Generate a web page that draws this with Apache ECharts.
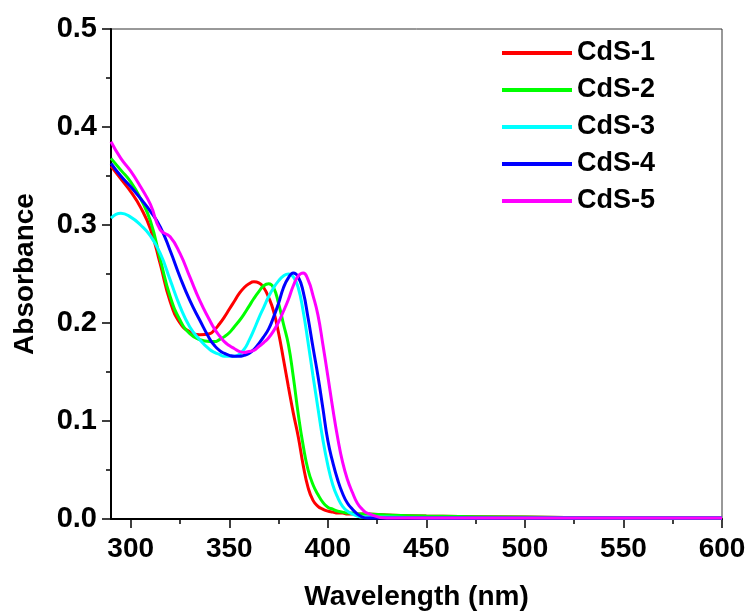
<!DOCTYPE html>
<html>
<head>
<meta charset="utf-8">
<script src="https://cdn.jsdelivr.net/npm/echarts@6/dist/echarts.min.js"></script>
<style>
html,body{margin:0;padding:0;background:#fff;}
#chart{width:750px;height:613px;}
</style>
</head>
<body>
<div id="chart"></div>
<script>
var wavelengths = [290,295,300,305,310,315,320,325,330,335,340,342.5,345,347.5,350,352.5,
  355,357.5,360,362.5,365,367.5,370,372.5,375,377.5,380,382.5,385,387.5,390,392.5,395,397.5,400,402.5,405,407.5,410,412.5,415,417.5,420,
  430,450,500,550,600];
var seriesNames = ['CdS-1','CdS-2','CdS-3','CdS-4','CdS-5'];
var cds1 = [0.360,0.347,0.334,0.318,0.296,0.260,0.222,0.200,0.191,0.188,0.189,0.193,0.199,0.206,0.214,0.222,
  0.230,0.236,0.240,0.242,0.241,0.236,0.226,0.212,0.190,0.163,0.135,0.108,0.084,0.055,0.032,0.019,0.013,0.010,0.008,0.007,0.006,0.006,0.005,0.005,0.005,0.005,0.005,
  0.004,0.003,0.002,0.001,0.001];
var cds2 = [0.368,0.356,0.344,0.327,0.304,0.265,0.227,0.203,0.189,0.183,0.181,0.181,0.183,0.186,0.190,0.196,
  0.202,0.209,0.217,0.225,0.232,0.238,0.240,0.236,0.220,0.199,0.178,0.145,0.107,0.075,0.050,0.035,0.025,0.017,0.012,0.010,0.008,0.007,0.006,0.006,0.005,0.005,0.005,
  0.004,0.003,0.002,0.001,0.001];
var cds3 = [0.307,0.312,0.308,0.300,0.289,0.271,0.244,0.217,0.196,0.183,0.173,0.170,0.168,0.166,0.166,0.166,
  0.168,0.173,0.182,0.193,0.205,0.216,0.227,0.236,0.243,0.248,0.250,0.247,0.236,0.212,0.180,0.146,0.113,0.081,0.055,0.035,0.022,0.013,0.008,0.005,0.003,0.002,0.002,
  0.002,0.001,0.001,0.001,0.001];
var cds4 = [0.363,0.350,0.339,0.327,0.314,0.298,0.274,0.247,0.223,0.203,0.184,0.177,0.172,0.169,0.167,0.166,
  0.166,0.167,0.169,0.173,0.179,0.186,0.194,0.206,0.220,0.236,0.246,0.251,0.247,0.232,0.205,0.175,0.146,0.113,0.080,0.058,0.040,0.026,0.016,0.010,0.005,0.002,0.001,
  0.001,0.001,0.001,0.001,0.001];
var cds5 = [0.385,0.368,0.355,0.339,0.321,0.295,0.288,0.271,0.247,0.223,0.203,0.194,0.187,0.181,0.177,0.174,
  0.171,0.170,0.171,0.172,0.176,0.180,0.185,0.192,0.201,0.212,0.224,0.238,0.248,0.251,0.244,0.228,0.208,0.178,0.146,0.113,0.083,0.058,0.040,0.027,0.016,0.010,0.006,
  0.001,0.001,0.001,0.001,0.001];
var colors = ['#ff0000','#00ff00','#00ffff','#0000ff','#ff00ff'];
var xMajorTicks = [300,350,400,450,500,550,600];
var xMinorTicks = [325,375,425,475,525,575];

var FONT = '"Liberation Sans", Arial, Helvetica, sans-serif';
var allValues = [cds1,cds2,cds3,cds4,cds5];

function pairs(vals){ return wavelengths.map(function(w,i){ return [w, vals[i]]; }); }

var chart = echarts.init(document.getElementById('chart'), null, {renderer:'canvas'});
var txt = {fontSize:28, fontWeight:'bold', color:'#000', fontFamily:FONT};
var axisLineStyle = {color:'#000', width:2};
var option = {
  animation:false,
  backgroundColor:'#fff',
  grid:{left:111,right:28,top:29,bottom:94,containLabel:false,outerBoundsMode:'none',show:true,borderColor:'#333',borderWidth:1,backgroundColor:'transparent'},
  legend:{
    left:497, top:34, orient:'vertical', icon:'rect', itemWidth:70, itemHeight:4, itemGap:9,
    textStyle:{fontSize:27, fontWeight:'bold', color:'#000', fontFamily:FONT, lineHeight:28},
    data:seriesNames
  },
  xAxis:[{
    type:'value', min:290, max:600, position:'bottom',
    name:'Wavelength (nm)', nameLocation:'middle', nameGap:64, nameTextStyle:txt,
    axisLine:{show:true, onZero:false, lineStyle:axisLineStyle},
    axisTick:{show:true, customValues:xMajorTicks, length:9, lineStyle:{color:'#000',width:1.5}},
    axisLabel:{customValues:xMajorTicks, margin:16, fontSize:28, fontWeight:'bold', color:'#000', fontFamily:FONT},
    splitLine:{show:false}
  },{
    type:'value', min:290, max:600, position:'bottom',
    axisLine:{show:false, onZero:false},
    axisTick:{show:true, customValues:xMinorTicks, length:5, lineStyle:{color:'#000',width:1.5}},
    axisLabel:{show:false, customValues:xMinorTicks},
    splitLine:{show:false}
  }],
  yAxis:{
    type:'value', min:0, max:0.5, interval:0.1,
    name:'Absorbance', nameLocation:'middle', nameRotate:90, nameGap:72, nameTextStyle:txt,
    axisLine:{show:true, onZero:false, lineStyle:axisLineStyle},
    axisTick:{show:true, length:9, lineStyle:{color:'#000',width:1.5}},
    minorTick:{show:true, splitNumber:2, length:5, lineStyle:{color:'#000',width:1.5}},
    axisLabel:{margin:14, fontSize:29, fontWeight:'bold', color:'#000', fontFamily:FONT, formatter:function(v){return v.toFixed(1);}},
    splitLine:{show:false}, minorSplitLine:{show:false}
  },
  series: seriesNames.map(function(n,i){
    return {
      name:n, type:'line', xAxisIndex:0, data:pairs(allValues[i]), smooth:0.5, showSymbol:false, symbol:'none',
      lineStyle:{color:colors[i], width:3}, itemStyle:{color:colors[i]}, clip:true
    };
  })
};
chart.setOption(option);
</script>
</body>
</html>
